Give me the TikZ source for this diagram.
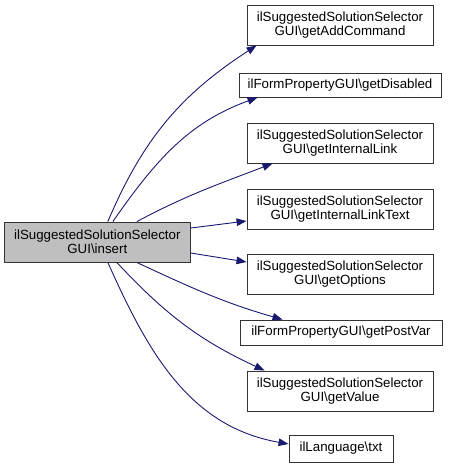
\documentclass[tikz,border=0pt]{standalone}
\usepackage[dvipsnames,svgnames,x11names]{xcolor}
\usepackage{fontspec}
\setmainfont{Liberation Sans}
\usepackage{tikz}
\usetikzlibrary{arrows.meta, positioning}
\tikzstyle{fnbox} = [
  rectangle, draw=black!80, fill=white, line width=0.9pt,
  align=center, inner sep=0pt,
  font=\fontsize{13.3}{13.8}\selectfont
]
\tikzstyle{mainbox} = [fnbox, fill=gray!50]
\tikzstyle{callarrow} = [-{Triangle[length=10pt, width=7.5pt]}, line width=0.9pt, MidnightBlue]

\begin{document}
\begin{tikzpicture}[x=1pt, y=-1pt]

  \useasboundingbox (0, 0) rectangle (448, 469);

  % Caller
  \node[mainbox, minimum width=186pt, minimum height=40pt] (insert) at (97.3, 242) {ilSuggestedSolutionSelector\\GUI\textbackslash insert};

  % Callees
  \node[fnbox, minimum width=186pt, minimum height=40pt] (addcmd) at (340, 25) {ilSuggestedSolutionSelector\\GUI\textbackslash getAddCommand};
  \node[fnbox, minimum width=202pt, minimum height=24pt] (disabled) at (340, 85) {ilFormPropertyGUI\textbackslash getDisabled};
  \node[fnbox, minimum width=186pt, minimum height=40pt] (intlink) at (340, 143) {ilSuggestedSolutionSelector\\GUI\textbackslash getInternalLink};
  \node[fnbox, minimum width=186pt, minimum height=40pt] (intlinktext) at (340, 209) {ilSuggestedSolutionSelector\\GUI\textbackslash getInternalLinkText};
  \node[fnbox, minimum width=186pt, minimum height=40pt] (options) at (340, 274) {ilSuggestedSolutionSelector\\GUI\textbackslash getOptions};
  \node[fnbox, minimum width=202pt, minimum height=25pt] (postvar) at (341, 332.5) {ilFormPropertyGUI\textbackslash getPostVar};
  \node[fnbox, minimum width=186pt, minimum height=40pt] (value) at (340, 391) {ilSuggestedSolutionSelector\\GUI\textbackslash getValue};
  \node[fnbox, minimum width=104pt, minimum height=27pt] (txt) at (341, 448.5) {ilLanguage\textbackslash txt};

  % Calls
  \draw[callarrow] ([xshift=104pt]insert.north west) to[out=67, in=213] ([xshift=10pt]addcmd.south west);
  \draw[callarrow] ([xshift=109pt]insert.north west) to[out=55, in=200] ([xshift=19pt]disabled.south west);
  \draw[callarrow] ([xshift=133pt]insert.north west) to[out=28, in=201] ([xshift=26pt]intlink.south west);
  \draw[callarrow] ([yshift=14pt]insert.east) -- ([yshift=-12pt]intlinktext.west);
  \draw[callarrow] ([yshift=-11pt]insert.east) -- ([yshift=12pt]options.west);
  \draw[callarrow] ([xshift=133pt]insert.south west) to[out=-25, in=164] ([xshift=43pt]postvar.north west);
  \draw[callarrow] ([xshift=113pt]insert.south west) to[out=-47, in=155] ([xshift=18pt]value.north west);
  \draw[callarrow] ([xshift=104pt]insert.south west) to[out=-66, in=170] ([yshift=4.5pt]txt.west);

\end{tikzpicture}
\end{document}
